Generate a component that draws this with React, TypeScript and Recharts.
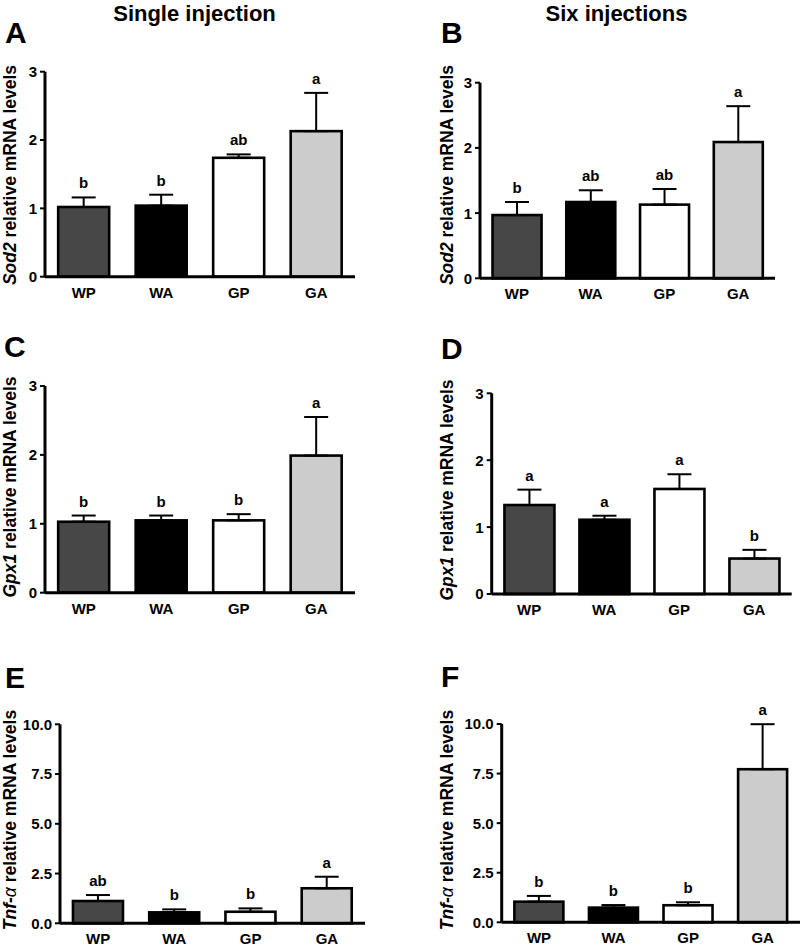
import React from 'react';
import { BarChart, Bar, XAxis, YAxis, ErrorBar } from 'recharts';

const groups = ['WP', 'WA', 'GP', 'GA'];

const sod2SingleMean = [1.02, 1.04, 1.74, 2.13];
const sod2SingleSem = [0.14, 0.16, 0.05, 0.56];
const sod2SingleLetters = ['b', 'b', 'ab', 'a'];

const sod2SixMean = [0.97, 1.17, 1.13, 2.09];
const sod2SixSem = [0.2, 0.18, 0.24, 0.55];
const sod2SixLetters = ['b', 'ab', 'ab', 'a'];

const gpx1SingleMean = [1.03, 1.05, 1.05, 1.99];
const gpx1SingleSem = [0.09, 0.07, 0.09, 0.56];
const gpx1SingleLetters = ['b', 'b', 'b', 'a'];

const gpx1SixMean = [1.33, 1.11, 1.57, 0.53];
const gpx1SixSem = [0.23, 0.06, 0.22, 0.13];
const gpx1SixLetters = ['a', 'a', 'a', 'b'];

const tnfSingleMean = [1.12, 0.55, 0.58, 1.76];
const tnfSingleSem = [0.3, 0.15, 0.17, 0.58];
const tnfSingleLetters = ['ab', 'b', 'b', 'a'];

const tnfSixMean = [1.04, 0.74, 0.86, 7.72];
const tnfSixSem = [0.29, 0.13, 0.15, 2.27];
const tnfSixLetters = ['b', 'b', 'b', 'a'];

const ticks3 = [0, 1, 2, 3];
const ticks10 = [0, 2.5, 5, 7.5, 10];

const FILLS = ['#474747', '#000000', '#ffffff', '#cccccc'];
const FONT = '"Liberation Sans", Arial, Helvetica, sans-serif';

function rows(mean: number[], sem: number[], letters: string[]) {
  return groups.map((g, i) => ({ name: g, mean: mean[i], err: [0, sem[i]], sem: sem[i], letter: letters[i] }));
}

type Box = { left: number; top: number; width: number; height: number; pl: number; pr: number; pt: number; pb: number };

function BarShape(props: any) {
  const { x, y, width, height, index, payload } = props;
  const ppu = payload.mean > 0 ? height / payload.mean : 0;
  const errTop = y - payload.sem * ppu;
  return (
    <g>
      <rect x={x} y={y} width={width} height={height} fill={FILLS[index]} stroke="#000" strokeWidth={2.6} />
      <text x={x + width / 2} y={errTop - 9} textAnchor="middle" fontFamily={FONT} fontWeight="bold" fontSize={15} fill="#000">
        {payload.letter}
      </text>
    </g>
  );
}

function YTick(props: any) {
  const { x, y, payload, decimals } = props;
  return (
    <text x={x} y={y} dy="0.36em" textAnchor="end" fontFamily={FONT} fontWeight="bold" fontSize={15} fill="#000">
      {Number(payload.value).toFixed(decimals)}
    </text>
  );
}

function XTick(props: any) {
  const { x, y, payload } = props;
  return (
    <text x={x} y={y} dy="0.72em" textAnchor="middle" fontFamily={FONT} fontWeight="bold" fontSize={15} fill="#000">
      {payload.value}
    </text>
  );
}

function Panel({ box, data, domain, ticks, decimals }: { box: Box; data: any[]; domain: [number, number]; ticks: number[]; decimals: number }) {
  const xh = 20;
  const margin = {
    left: 0,
    top: box.pt - box.top,
    right: box.left + box.width - box.pr,
    bottom: box.top + box.height - box.pb - xh,
  };
  return (
    <div style={{ position: 'absolute', left: box.left, top: box.top }}>
      <BarChart width={box.width} height={box.height} data={data} margin={margin} barCategoryGap="17%">
        <XAxis
          dataKey="name"
          height={xh}
          tickLine={false}
          tickSize={0}
          tickMargin={10}
          axisLine={{ stroke: '#000', strokeWidth: 3 }}
          tick={<XTick />}
          interval={0}
        />
        <YAxis
          width={box.pl - box.left}
          domain={domain}
          ticks={ticks}
          interval={0}
          tickSize={5}
          tickMargin={3}
          axisLine={{ stroke: '#000', strokeWidth: 3 }}
          tickLine={{ stroke: '#000', strokeWidth: 2 }}
          tick={<YTick decimals={decimals} />}
        />
        <Bar dataKey="mean" isAnimationActive={false} shape={<BarShape />}>
          <ErrorBar dataKey="err" width={12} strokeWidth={2} stroke="#000" direction="y" isAnimationActive={false} />
        </Bar>
      </BarChart>
    </div>
  );
}

function YLabel({ x, y, gene, greek }: { x: number; y: number; gene: string; greek?: string }) {
  return (
    <text transform={`translate(${x},${y}) rotate(-90)`} textAnchor="middle" fontFamily={FONT} fontWeight="bold" fontSize={17.5} fill="#000">
      <tspan fontStyle="italic">{gene}</tspan>
      {greek ? <tspan fontStyle="italic" fontWeight="normal">{greek}</tspan> : null}
      <tspan> relative mRNA levels</tspan>
    </text>
  );
}

export default function App() {
  const boxes: Box[] = [
    { left: 0, top: 50, width: 400, height: 260, pl: 45, pr: 355, pt: 71.7, pb: 276.7 },
    { left: 400, top: 50, width: 407, height: 260, pl: 480, pr: 775, pt: 82.7, pb: 278.3 },
    { left: 0, top: 365, width: 400, height: 260, pl: 45, pr: 355, pt: 386, pb: 592.7 },
    { left: 400, top: 365, width: 407, height: 260, pl: 491.7, pr: 791.7, pt: 393.3, pb: 594 },
    { left: 0, top: 700, width: 400, height: 249, pl: 60, pr: 365, pt: 724.3, pb: 923.3 },
    { left: 400, top: 700, width: 407, height: 249, pl: 501.7, pr: 800, pt: 724, pb: 922.3 },
  ];
  const letterStyle = { fontFamily: FONT, fontWeight: 'bold' as const, fontSize: 30, fill: '#000' };
  const titleStyle = { fontFamily: FONT, fontWeight: 'bold' as const, fontSize: 22, fill: '#000' };
  return (
    <div style={{ position: 'absolute', left: 0, top: 0, width: 807, height: 949, background: '#fff', overflow: 'hidden' }}>
      <svg width={807} height={949} style={{ position: 'absolute', left: 0, top: 0 }}>
        <text x={194.5} y={21} textAnchor="middle" {...titleStyle}>Single injection</text>
        <text x={616.5} y={21} textAnchor="middle" {...titleStyle}>Six injections</text>
        <text x={5} y={43} {...letterStyle}>A</text>
        <text x={441} y={43} {...letterStyle}>B</text>
        <text x={4} y={357} {...letterStyle}>C</text>
        <text x={441} y={359} {...letterStyle}>D</text>
        <text x={5} y={688} {...letterStyle}>E</text>
        <text x={441} y={687} {...letterStyle}>F</text>
        <YLabel x={16} y={175} gene="Sod2" />
        <YLabel x={453} y={175} gene="Sod2" />
        <YLabel x={16} y={487} gene="Gpx1" />
        <YLabel x={453} y={490} gene="Gpx1" />
        <YLabel x={16} y={820} gene="Tnf-" greek="α" />
        <YLabel x={453} y={820} gene="Tnf-" greek="α" />
      </svg>
      <Panel box={boxes[0]} data={rows(sod2SingleMean, sod2SingleSem, sod2SingleLetters)} domain={[0, 3]} ticks={ticks3} decimals={0} />
      <Panel box={boxes[1]} data={rows(sod2SixMean, sod2SixSem, sod2SixLetters)} domain={[0, 3]} ticks={ticks3} decimals={0} />
      <Panel box={boxes[2]} data={rows(gpx1SingleMean, gpx1SingleSem, gpx1SingleLetters)} domain={[0, 3]} ticks={ticks3} decimals={0} />
      <Panel box={boxes[3]} data={rows(gpx1SixMean, gpx1SixSem, gpx1SixLetters)} domain={[0, 3]} ticks={ticks3} decimals={0} />
      <Panel box={boxes[4]} data={rows(tnfSingleMean, tnfSingleSem, tnfSingleLetters)} domain={[0, 10]} ticks={ticks10} decimals={1} />
      <Panel box={boxes[5]} data={rows(tnfSixMean, tnfSixSem, tnfSixLetters)} domain={[0, 10]} ticks={ticks10} decimals={1} />
    </div>
  );
}
